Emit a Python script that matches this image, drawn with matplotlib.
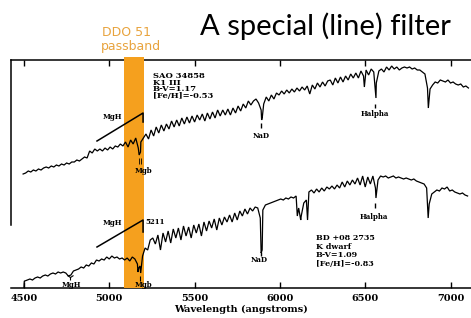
import numpy as np
import matplotlib
matplotlib.use("Agg")
import matplotlib.pyplot as plt

# ---------------- data (wavelength in angstroms, flux in arbitrary units) ----
ticks = [4500, 5000, 5500, 6000, 6500, 7000]
tick_labels = ["4500", "5000", "5500", "6000", "6500", "7000"]

step = 15  # sampling step of the flux tables (angstroms)

upper_start = 4495
upper_flux = [
    114, 115, 117, 116, 118, 117, 119, 118, 120, 121,
    120, 122, 121, 123, 122, 124, 123, 125, 124, 126,
    126, 128, 127, 129, 131, 130, 137, 135, 139, 137,
    139, 137, 140, 138, 141, 139, 142, 141, 144, 142,
    146, 141, 148, 144, 150, 140, 146, 150, 154, 149,
    158, 152, 161, 155, 163, 157, 164, 159, 167, 161,
    168, 162, 170, 164, 171, 165, 172, 166, 173, 168,
    174, 167, 175, 169, 176, 170, 178, 172, 178, 173,
    179, 173, 180, 175, 182, 177, 184, 180, 187, 183,
    187, 189, 185, 178, 184, 191, 187, 193, 189, 195,
    193, 197, 194, 198, 195, 199, 196, 200, 197, 201,
    198, 202, 194, 203, 199, 205, 201, 206, 202, 207,
    208, 203, 210, 205, 211, 206, 212, 208, 214, 210,
    215, 210, 217, 212, 218, 213, 219, 216, 205, 217,
    219, 216, 221, 218, 222, 219, 221, 218, 220, 221,
    220, 221, 219, 220, 218, 218, 216, 214, 200, 199,
    203, 206, 205, 208, 207, 206, 208, 205, 206, 204,
    203, 204, 201, 202, 200]
upper_line_wl = [5175, 5183, 5893, 5897, 6495, 6563, 6870]
upper_line_flux = [133, 136, 168, 171, 201, 190, 180]

lower_start = 4505
lower_flux = [
    7, 8, 9, 8, 10, 11, 10, 12, 13, 12,
    14, 15, 14, 16, 15, 16, 15, 12, 13, 17,
    18, 19, 21, 20, 23, 22, 25, 24, 28, 27,
    29, 28, 31, 29, 32, 30, 31, 29, 30, 28,
    30, 27, 31, 29, 24, 22, 32, 40, 38, 48,
    50, 44, 53, 38, 55, 46, 57, 45, 59, 50,
    60, 48, 62, 52, 61, 50, 63, 55, 64, 52,
    66, 57, 67, 60, 69, 58, 70, 63, 71, 66,
    73, 66, 75, 68, 77, 72, 79, 74, 80, 77,
    81, 80, 70, 78, 83, 84, 85, 86, 87, 88,
    89, 88, 90, 89, 91, 90, 92, 80, 72, 85,
    88, 96, 98, 95, 99, 96, 100, 97, 101, 99,
    102, 99, 103, 100, 106, 101, 107, 103, 108, 104,
    110, 103, 112, 101, 111, 104, 112, 100, 108, 112,
    111, 112, 110, 111, 112, 110, 111, 110, 109, 110,
    109, 108, 109, 107, 106, 105, 104, 100, 84, 94,
    96, 98, 97, 100, 99, 101, 97, 98, 96, 95,
    94, 95, 93, 92]
lower_line_wl = [4500, 4502, 5168, 5173, 5184, 5890, 5896, 6102, 6122, 6162, 6563, 6869]
lower_line_flux = [0, 7, 16, 20, 15, 35, 38, 72, 68, 68, 90, 70]

passband = (5086, 5203)

upper_info = ["SAO 34858", "K1 III", "B-V=1.17", "[Fe/H]=-0.53"]
lower_info = ["BD +08 2735", "K dwarf", "B-V=1.09", "[Fe/H]=-0.83"]


def build(start, flux, line_wl, line_flux):
    wl = start + step * np.arange(len(flux))
    w = np.concatenate([wl, np.asarray(line_wl, float)])
    f = np.concatenate([np.asarray(flux, float), np.asarray(line_flux, float)])
    o = np.argsort(w, kind="stable")
    return w[o], f[o]


uw, uf = build(upper_start, upper_flux, upper_line_wl, upper_line_flux)
lw, lf = build(lower_start, lower_flux, lower_line_wl, lower_line_flux)

# ---------------- figure ------------------------------------------------------
W, H = 471, 318
fig = plt.figure(figsize=(W / 100, H / 100), dpi=100)
ax = fig.add_axes([11 / W, 30 / H, (W - 11) / W, 228 / H])
ax.set_xlim(4424, 7120)
ax.set_ylim(0, 228)

serif = "DejaVu Serif"

ax.axvspan(passband[0], passband[1], ymin=0, ymax=1.015, color="#F5A01E",
           lw=0, zorder=3, clip_on=False)

ax.plot(uw, uf, color="black", lw=0.9, zorder=4, solid_joinstyle="miter")
ax.plot(lw, lf, color="black", lw=0.9, zorder=4, solid_joinstyle="miter")

# spines / ticks
ax.spines["right"].set_visible(False)
for s in ["top", "bottom", "left"]:
    ax.spines[s].set_linewidth(1.1)
ax.spines["left"].set_bounds(63, 228)
ax.set_yticks([])
ax.set_xticks(ticks)
ax.set_xticklabels(tick_labels, fontfamily=serif, fontweight="bold", fontsize=7)
ax.tick_params(axis="x", direction="in", top=True, bottom=True, length=4.5,
               width=1.0, pad=4)
ax.set_xlabel("Wavelength (angstroms)", fontfamily=serif, fontweight="bold",
              fontsize=7, labelpad=2)

lab = dict(fontfamily=serif, fontweight="bold", fontsize=5, zorder=5)

# upper annotations
ax.plot([4928, 5198, 5198], [147, 175, 166], color="black", lw=1.1, zorder=5)
ax.text(5016, 171, "MgH", ha="center", va="center", **lab)
ax.vlines([5176, 5186], 124, 130, color="black", lw=0.6, zorder=5)
ax.text(5198, 117, "Mgb", ha="center", va="center", **lab)
ax.vlines([5889], 160, 165, color="black", lw=1.0, zorder=5)
ax.text(5889, 152, "NaD", ha="center", va="center", **lab)
ax.vlines([6558], 180, 184, color="black", lw=1.0, zorder=5)
ax.text(6558, 174, "Halpha", ha="center", va="center", **lab)
for i, t in enumerate(upper_info):
    ax.text(5256, 212 - 6.7 * i, t, ha="left", va="center",
            fontfamily=serif, fontweight="bold", fontsize=6.0, zorder=5)

# lower annotations
ax.plot([4928, 5198, 5198], [41, 68, 56], color="black", lw=1.1, zorder=5)
ax.text(5016, 65, "MgH", ha="center", va="center", **lab)
ax.text(5213, 66, "5211", ha="left", va="center", **lab)
ax.plot([4770], [11], marker="1", color="black", ms=5, mew=0.8, zorder=5)
ax.text(4780, 3, "MgH", ha="center", va="center", **lab)
ax.vlines([5180], 7, 12, color="black", lw=0.8, zorder=5)
ax.text(5200, 3, "Mgb", ha="center", va="center", **lab)
ax.vlines([5889], 32, 36, color="black", lw=1.0, zorder=5)
ax.text(5880, 28, "NaD", ha="center", va="center", **lab)
ax.vlines([6558], 80, 85, color="black", lw=1.0, zorder=5)
ax.text(6548, 71, "Halpha", ha="center", va="center", **lab)
for i, t in enumerate(lower_info):
    ax.text(6211, 50 - 8.7 * i, t, ha="left", va="center",
            fontfamily=serif, fontweight="bold", fontsize=5.8, zorder=5)

# headings
fig.text(200 / W, 1 - 35 / H, "A special (line) filter", ha="left",
         va="baseline", fontfamily="Lato", fontsize=21, color="black")
fig.text(127 / W, 1 - 36 / H, "DDO 51", ha="center", va="baseline",
         fontfamily="DejaVu Sans", fontsize=9, color="#E8A33D")
fig.text(131 / W, 1 - 50 / H, "passband", ha="center", va="baseline",
         fontfamily="DejaVu Sans", fontsize=9, color="#E8A33D")

fig.savefig("out.png", dpi=100)
